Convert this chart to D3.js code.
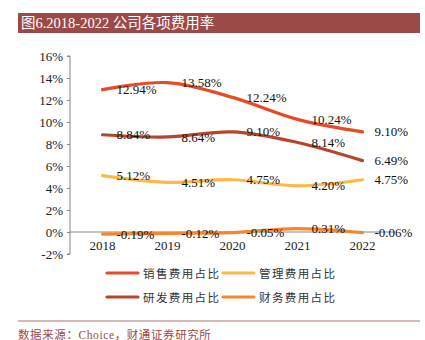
<!DOCTYPE html>
<html lang='zh'>
<head>
  <meta charset='UTF-8'>
  <title>费用率</title>
  <script src='https://d3js.org/d3.v7.min.js'></script>
  <style>
    body { margin: 0; background: #fff; }
    svg { display: block; }
  </style>
</head>
<body>
  <svg width='425' height='340'></svg>

  <script>
    var years = ['2018', '2019', '2020', '2021', '2022'];
    var seriesNames = ['销售费用占比', '管理费用占比', '研发费用占比', '财务费用占比'];
    var salesRate = [12.94, 13.58, 12.24, 10.24, 9.10];
    var adminRate = [5.12, 4.51, 4.75, 4.20, 4.75];
    var rdRate = [8.84, 8.64, 9.10, 8.14, 6.49];
    var finRate = [-0.19, -0.12, -0.05, 0.31, -0.06];
    var yTicks = [-2, 0, 2, 4, 6, 8, 10, 12, 14, 16];

    var colors = ['#e94a26', '#fdb947', '#b5462b', '#f7862a'];
    var allSeries = [salesRate, adminRate, rdRate, finRate];

    var svg = d3.select('svg');
    var serif = "'Liberation Serif', 'Times New Roman', 'Noto Sans CJK SC', serif";
    var cjk = "'Noto Sans CJK SC', sans-serif";

    // title bar
    svg.append('rect')
      .attr('x', 18).attr('y', 13)
      .attr('width', 402).attr('height', 20)
      .attr('fill', '#9c4a47');
    svg.append('text')
      .attr('x', 21).attr('y', 28)
      .attr('fill', '#fff')
      .style('font-family', serif)
      .style('font-size', '14.5px')
      .text('图6.2018-2022 公司各项费用率');

    var x = d3.scaleBand()
      .domain(years)
      .range([70, 395]);
    var y = d3.scaleLinear()
      .domain([-2, 16])
      .range([254, 56]);

    // y axis
    var yAxis = svg.append('g')
      .attr('transform', 'translate(70,0)')
      .call(d3.axisLeft(y).tickValues(yTicks).tickSize(3).tickFormat(d => d + '%'));
    yAxis.select('.domain').attr('stroke', '#888').attr('d', 'M-3,' + y(16) + 'H0V' + y(-2) + 'H-3');
    yAxis.selectAll('line').attr('stroke', '#888');
    yAxis.selectAll('text')
      .attr('x', -7)
      .attr('fill', '#222')
      .style('font-family', serif)
      .style('font-size', '13px');

    // zero line
    svg.append('line')
      .attr('x1', 70).attr('x2', 395)
      .attr('y1', y(0)).attr('y2', y(0))
      .attr('stroke', '#888').attr('stroke-width', 1);

    // x labels
    svg.selectAll('.xlab').data(years)
     .enter().append('text')
      .attr('class', 'xlab')
      .attr('x', d => x(d) + x.bandwidth() / 2)
      .attr('y', 250)
      .attr('text-anchor', 'middle')
      .attr('fill', '#222')
      .style('font-family', serif)
      .style('font-size', '13px')
      .text(d => d);

    var line = d3.line()
      .x((d, i) => x(years[i]) + x.bandwidth() / 2)
      .y(d => y(d))
      .curve(d3.curveCatmullRom.alpha(0.5));

    allSeries.forEach((s, k) => {
      svg.append('path')
        .datum(s)
        .attr('fill', 'none')
        .attr('stroke', colors[k])
        .attr('stroke-width', 3.2)
        .attr('stroke-linecap', 'round')
        .attr('d', line);
    });

    allSeries.forEach((s, k) => {
      svg.selectAll('.lab' + k).data(s)
       .enter().append('text')
        .attr('x', (d, i) => x(years[i]) + x.bandwidth() / 2 + (i === 4 ? 12 : 14))
        .attr('y', d => y(d))
        .attr('dy', '0.35em')
        .attr('fill', '#111')
        .style('font-family', serif)
        .style('font-size', '13px')
        .text(d => d.toFixed(2) + '%');
    });

    // legend
    var legPos = [[107, 273], [223, 273], [107, 297], [223, 297]];
    var legOrder = [0, 1, 2, 3];
    legOrder.forEach((k, j) => {
      var p = legPos[j];
      svg.append('line')
        .attr('x1', p[0]).attr('x2', p[0] + 31)
        .attr('y1', p[1]).attr('y2', p[1])
        .attr('stroke', colors[k]).attr('stroke-width', 3.2)
        .attr('stroke-linecap', 'round');
      svg.append('text')
        .attr('x', p[0] + 36).attr('y', p[1] + 4.5)
        .attr('fill', '#333')
        .style('font-family', cjk)
        .style('font-size', '11.5px')
        .style('letter-spacing', '1.4px')
        .text(seriesNames[k]);
    });

    // footer
    svg.append('line')
      .attr('x1', 18).attr('x2', 420)
      .attr('y1', 321).attr('y2', 321)
      .attr('stroke', '#c9a3a1').attr('stroke-width', 1.5);
    svg.append('text')
      .attr('x', 18).attr('y', 339)
      .attr('fill', '#9c4a47')
      .style('font-family', serif)
      .style('font-size', '11.5px')
      .style('letter-spacing', '0.6px')
      .text('数据来源：Choice，财通证券研究所');
  </script>
</body>
</html>
